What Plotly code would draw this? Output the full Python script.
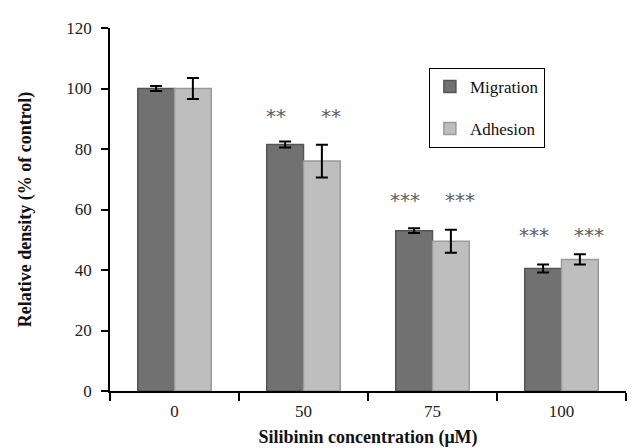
import plotly.graph_objects as go

categories = ["0", "50", "75", "100"]
migration = [100, 81.5, 53, 40.5]
migration_err = [0.8, 1.0, 0.8, 1.3]
adhesion = [100, 76, 49.5, 43.5]
adhesion_err = [3.5, 5.4, 3.8, 1.7]
sig_labels = ["", "**", "***", "***"]
sig_level = [0, 91, 63, 51.5]

serif = "Liberation Serif, Times New Roman, serif"

fig = go.Figure()
fig.add_trace(go.Bar(
    x=categories, y=migration, name="Migration", legendgroup="m",
    marker=dict(color="#717171", line=dict(color="#555555", width=1.5)),
    error_y=dict(type="data", array=migration_err, color="black", thickness=2, width=6),
))
fig.add_trace(go.Bar(
    x=categories, y=adhesion, name="Adhesion", legendgroup="a",
    marker=dict(color="#bebebe", line=dict(color="#9a9a9a", width=1.5)),
    error_y=dict(type="data", array=adhesion_err, color="black", thickness=2, width=6),
))

# annotations on a category axis: use the category index
for i in range(len(categories)):
    if sig_labels[i]:
        for off in (-0.5, 0.5):
            fig.add_annotation(
                x=i, y=sig_level[i], text=sig_labels[i], showarrow=False,
                xref="x", yref="y", xshift=off * 55,
                font=dict(family="DejaVu Sans", size=20, color="#606060"),
            )

fig.update_layout(
    width=636, height=448,
    margin=dict(l=102, r=18, t=20, b=65),
    paper_bgcolor="white", plot_bgcolor="white",
    barmode="group", bargap=0.43, bargroupgap=0,
    font=dict(family=serif, size=17, color="#222222"),
    legend=dict(
        x=0.618, y=0.89, xanchor="left", yanchor="top",
        bordercolor="black", borderwidth=1, bgcolor="white",
        font=dict(family=serif, size=17, color="#111111"),
        traceorder="grouped", tracegroupgap=17,
        itemwidth=30,
    ),
    xaxis=dict(
        type="category", range=[-0.5, 3.5],
        showline=True, linecolor="black", linewidth=2,
        ticks="outside", tickson="boundaries", ticklen=8, tickwidth=2, tickcolor="black",
        ticklabelstandoff=4,
        title=dict(text="<b>Silibinin concentration (μM)</b>", font=dict(family=serif, size=18, color="#111111"), standoff=10),
        tickfont=dict(family=serif, size=17, color="#222222"),
    ),
    yaxis=dict(
        range=[0, 120], dtick=20, showgrid=False, zeroline=False,
        showline=True, linecolor="black", linewidth=1.5,
        ticks="outside", ticklen=7, tickwidth=1.5, tickcolor="black",
        ticklabelstandoff=6,
        title=dict(text="<b>Relative density (% of control)</b>", font=dict(family=serif, size=18, color="#111111"), standoff=30),
        tickfont=dict(family=serif, size=17, color="#222222"),
    ),
)

fig.write_html("out.html")
